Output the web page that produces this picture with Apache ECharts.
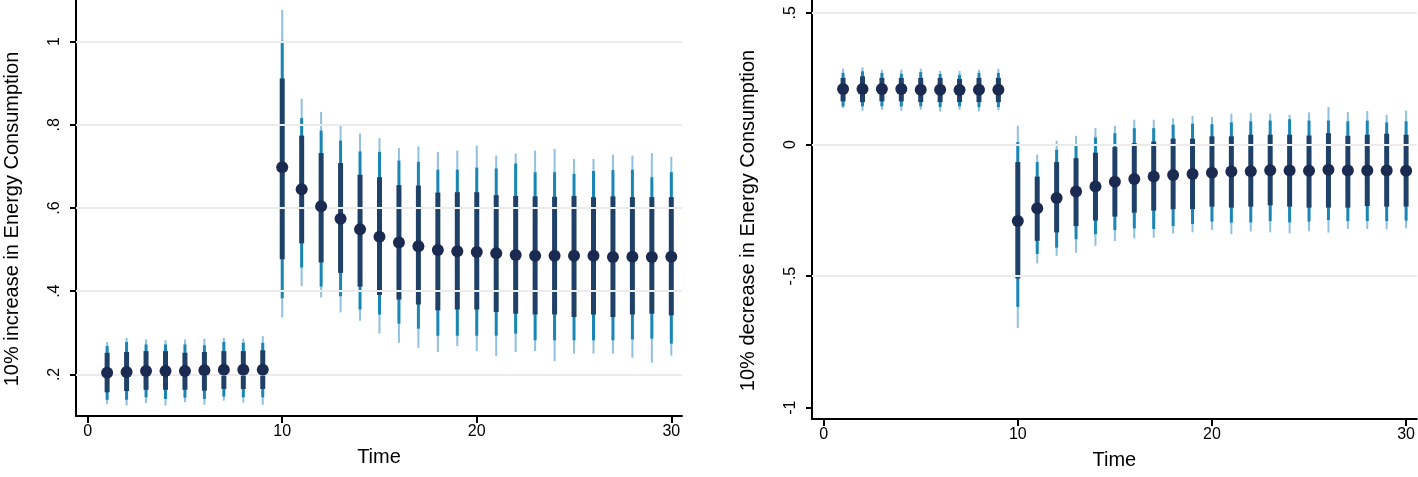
<!DOCTYPE html>
<html>
<head>
<meta charset="utf-8">
<script src="https://cdn.jsdelivr.net/npm/echarts@6/dist/echarts.min.js"></script>
<style>
html,body{margin:0;padding:0;background:#fff;}
#chart{width:1418px;height:477px;}
</style>
</head>
<body>
<div id="chart"></div>
<script>
// ---- data ----
const time = [1,2,3,4,5,6,7,8,9,10,11,12,13,14,15,16,17,18,19,20,21,22,23,24,25,26,27,28,29,30];
const xTicks = [0,10,20,30];
const incTicks = [0.2,0.4,0.6,0.8,1.0];
const decTicks = [-1,-0.5,0,0.5];
const incGrid = [0.2,0.4,0.6,0.8,1.0];
const decGrid = [-0.5,0,0.5];

// 10% increase
const incPoint = [0.204,0.206,0.208,0.208,0.208,0.210,0.211,0.211,0.211,
  0.698,0.645,0.604,0.574,0.549,0.531,0.517,0.508,0.499,0.496,0.494,0.491,0.487,0.485,0.485,0.485,0.485,0.482,0.483,0.482,0.483];
const incHiA = [0.252,0.254,0.256,0.256,0.252,0.254,0.256,0.256,0.258,
  0.911,0.774,0.732,0.708,0.680,0.674,0.655,0.654,0.637,0.638,0.638,0.631,0.629,0.628,0.627,0.629,0.626,0.628,0.626,0.626,0.626];
const incLoA = [0.157,0.160,0.163,0.163,0.163,0.161,0.165,0.165,0.165,
  0.477,0.515,0.469,0.444,0.411,0.391,0.380,0.368,0.354,0.356,0.356,0.350,0.346,0.344,0.344,0.338,0.344,0.338,0.344,0.346,0.342];
const incHiB = [0.268,0.278,0.272,0.272,0.272,0.270,0.278,0.276,0.276,
  1.002,0.816,0.786,0.762,0.736,0.735,0.714,0.711,0.692,0.692,0.697,0.695,0.707,0.686,0.686,0.682,0.689,0.691,0.692,0.674,0.686];
const incLoB = [0.139,0.139,0.145,0.141,0.144,0.141,0.147,0.145,0.145,
  0.383,0.457,0.411,0.388,0.356,0.344,0.322,0.310,0.293,0.293,0.293,0.293,0.298,0.282,0.282,0.282,0.282,0.282,0.284,0.286,0.274];
const incHiC = [0.278,0.288,0.284,0.282,0.284,0.286,0.288,0.286,0.292,
  1.076,0.863,0.831,0.797,0.779,0.768,0.744,0.748,0.735,0.738,0.750,0.726,0.731,0.738,0.742,0.718,0.718,0.728,0.726,0.732,0.723];
const incLoC = [0.129,0.125,0.131,0.125,0.133,0.127,0.137,0.132,0.127,
  0.337,0.412,0.385,0.349,0.329,0.298,0.276,0.264,0.254,0.268,0.256,0.244,0.254,0.256,0.232,0.250,0.250,0.250,0.240,0.228,0.245];

// 10% decrease
const decPoint = [0.211,0.211,0.211,0.211,0.208,0.208,0.207,0.208,0.208,
  -0.291,-0.242,-0.203,-0.179,-0.160,-0.142,-0.131,-0.122,-0.116,-0.112,-0.107,-0.103,-0.102,-0.098,-0.099,-0.100,-0.096,-0.099,-0.099,-0.099,-0.100];
const decHiA = [0.253,0.259,0.253,0.253,0.253,0.253,0.249,0.253,0.253,
  -0.067,-0.122,-0.067,-0.052,-0.031,-0.010,0.005,0.011,0.022,0.022,0.031,0.031,0.037,0.037,0.037,0.034,0.043,0.033,0.037,0.041,0.037];
const decLoA = [0.164,0.161,0.164,0.164,0.161,0.161,0.161,0.161,0.161,
  -0.509,-0.366,-0.334,-0.310,-0.289,-0.274,-0.259,-0.251,-0.246,-0.245,-0.236,-0.240,-0.236,-0.231,-0.236,-0.240,-0.240,-0.240,-0.234,-0.236,-0.236];
const decHiB = [0.272,0.278,0.272,0.269,0.275,0.268,0.265,0.272,0.272,
  0.009,-0.067,-0.020,-0.005,0.027,0.043,0.062,0.062,0.075,0.079,0.077,0.084,0.088,0.091,0.096,0.091,0.091,0.088,0.091,0.084,0.088];
const decLoB = [0.145,0.145,0.145,0.145,0.145,0.142,0.145,0.142,0.142,
  -0.617,-0.416,-0.392,-0.360,-0.341,-0.325,-0.319,-0.321,-0.310,-0.302,-0.293,-0.297,-0.296,-0.291,-0.296,-0.293,-0.287,-0.291,-0.291,-0.291,-0.289];
const decHiC = [0.288,0.293,0.284,0.284,0.288,0.280,0.280,0.284,0.288,
  0.071,-0.039,0.014,0.033,0.062,0.071,0.094,0.094,0.099,0.109,0.104,0.117,0.119,0.117,0.113,0.122,0.142,0.123,0.127,0.113,0.129];
const decLoC = [0.138,0.128,0.132,0.128,0.132,0.126,0.132,0.126,0.130,
  -0.697,-0.452,-0.423,-0.411,-0.385,-0.367,-0.357,-0.354,-0.338,-0.334,-0.325,-0.341,-0.331,-0.334,-0.338,-0.329,-0.335,-0.321,-0.321,-0.322,-0.319];

// ---- styling ----
const FONT = 'Liberation Sans, Arial, sans-serif';
const C_LIGHT = '#8fc0e0', C_MED = '#1a86b6', C_DARK = '#1f4167', C_DOT = '#1b2a50';

function fmt(v){
  let s = String(Math.round(v*10)/10);
  return s.replace(/^0\./,'.').replace(/^-0\./,'-.');
}

function band(idx, lo, hi, color, width, z){
  return {
    type:'custom', xAxisIndex: idx, yAxisIndex: idx, z: z, silent: true, animation:false,
    data: time.map((t,i)=>[t, lo[i], hi[i]]),
    encode: {x:0, y:[1,2]},
    renderItem: function(params, api){
      const a = api.coord([api.value(0), api.value(1)]);
      const b = api.coord([api.value(0), api.value(2)]);
      return {type:'line', shape:{x1:a[0], y1:a[1], x2:b[0], y2:b[1]},
        style:{stroke:color, lineWidth:width, lineCap:'butt'}};
    }
  };
}
function dots(idx, vals){
  return {type:'scatter', xAxisIndex: idx, yAxisIndex: idx, z: 6, silent:true, animation:false,
    symbol:'circle', symbolSize: 12, itemStyle:{color:C_DOT, opacity:1},
    data: time.map((t,i)=>[t, vals[i]])};
}
function gridLines(idx, vals){
  return {type:'line', xAxisIndex: idx, yAxisIndex: idx, z: 1, silent:true, animation:false, data: [],
    markLine:{silent:true, animation:false, symbol:['none','none'], label:{show:false},
      lineStyle:{type:'solid', color:'#ebebeb', width:2},
      data: vals.map(v=>({yAxis:v}))}};
}
function xAxis(idx){
  return {type:'value', gridIndex: idx, min:-0.6, max:30.55,
    name:'Time', nameLocation:'middle', nameGap: 31,
    nameTextStyle:{fontFamily:FONT, fontSize:20, color:'#000'},
    axisLine:{show:true, onZero:false, lineStyle:{color:'#000', width:2}},
    axisTick:{show:true, length:7, lineStyle:{color:'#000', width:2}, customValues: xTicks},
    axisLabel:{show:true, margin:8, fontFamily:FONT, fontSize:16, color:'#000', customValues: xTicks, formatter: fmt},
    splitLine:{show:false}};
}
function yAxis(idx, min, max, ticks, name){
  return {type:'value', gridIndex: idx, min:min, max:max,
    name:name, nameLocation:'middle', nameGap: 54, nameRotate: 90,
    nameTextStyle:{fontFamily:FONT, fontSize:20, color:'#000', padding:[0, 22, 0, 0]},
    axisLine:{show:true, onZero:false, lineStyle:{color:'#000', width:2}},
    axisTick:{show:true, length:6, lineStyle:{color:'#000', width:2}, customValues: ticks},
    axisLabel:{show:true, rotate:90, margin:13, fontFamily:FONT, fontSize:16, color:'#000', customValues: ticks, formatter: fmt},
    splitLine:{show:false}};
}

const chart = echarts.init(document.getElementById('chart'), null, {renderer:'canvas'});
chart.setOption({
  animation:false,
  backgroundColor:'#fff',
  grid:[
    {left:76, top:0, width:606, height:416},
    {left:812, top:0, width:605, height:419}
  ],
  xAxis:[xAxis(0), xAxis(1)],
  yAxis:[
    yAxis(0, 0.1, 1.1, incTicks, '10% increase in Energy Consumption'),
    yAxis(1, -1.043, 0.549, decTicks, '10% decrease in Energy Consumption')
  ],
  series:[
    gridLines(0, incGrid),
    band(0, incLoC, incHiC, C_LIGHT, 2, 2),
    band(0, incLoB, incHiB, C_MED, 3, 3),
    band(0, incLoA, incHiA, C_DARK, 5, 4),
    dots(0, incPoint),
    gridLines(1, decGrid),
    band(1, decLoC, decHiC, C_LIGHT, 2, 2),
    band(1, decLoB, decHiB, C_MED, 3, 3),
    band(1, decLoA, decHiA, C_DARK, 5, 4),
    dots(1, decPoint)
  ]
});
</script>
</body>
</html>
